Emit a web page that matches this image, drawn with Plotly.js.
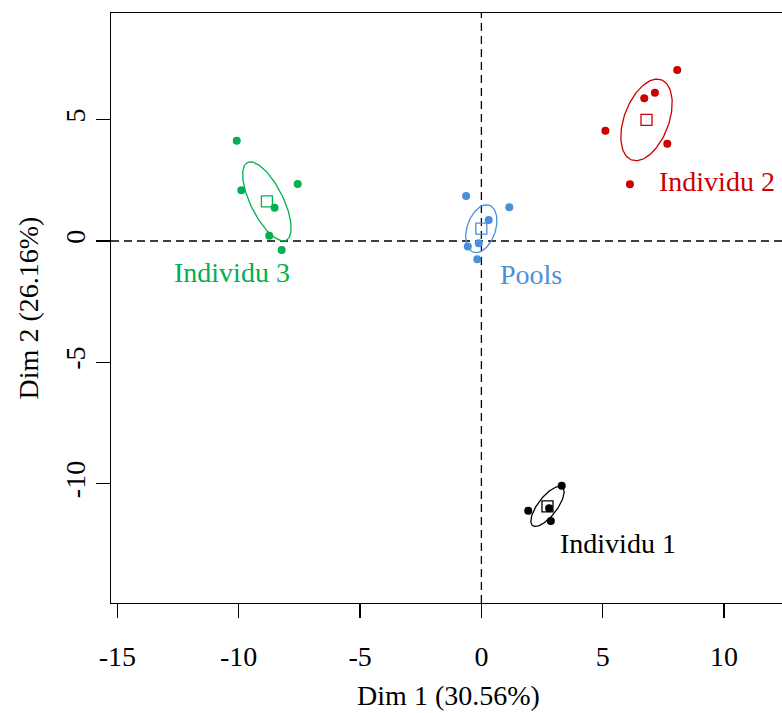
<!DOCTYPE html>
<html>
<head>
<meta charset="utf-8">
<script src="https://cdn.plot.ly/plotly-3.0.1.min.js"></script>
<style>
html,body{margin:0;padding:0;overflow:hidden;background:#fff;}
#chart{width:800px;height:713px;}
#chart svg text{font-family:"Liberation Serif","DejaVu Serif",serif !important;}
</style>
</head>
<body>
<div id="chart"></div>
<script>
// ---- data ----
const groups = ["Individu 1", "Individu 2", "Individu 3", "Pools"];
const colors = ["#000000", "#CC0000", "#00B050", "#4A8FDB"];

const ind1X = [3.31, 1.93, 2.79, 2.86];
const ind1Y = [-10.08, -11.11, -11.01, -11.54];

const ind2X = [8.07, 7.15, 6.71, 5.11, 7.66, 6.12];
const ind2Y = [7.05, 6.11, 5.88, 4.54, 4.01, 2.34];

const ind3X = [-10.08, -7.57, -9.89, -8.52, -8.74, -8.23];
const ind3Y = [4.13, 2.35, 2.09, 1.37, 0.22, -0.37];

const poolsX = [-0.63, 1.15, 0.30, -0.11, -0.56, -0.17];
const poolsY = [1.85, 1.39, 0.87, -0.09, -0.23, -0.75];

// confidence ellipses: semi-major, semi-minor (axis units), angle (degrees)
const ellA = [1.00, 1.76, 1.79, 1.02];
const ellB = [0.39, 0.92, 0.67, 0.585];
const ellAngle = [52.2, 69.6, 116.5, 71.3];

// label positions
const labelX = [5.64, 9.72, -10.26, 2.04];
const labelY = [-12.48, 2.45, -1.28, -1.40];

const xTicks = [-15, -10, -5, 0, 5, 10];
const yTicks = [-10, -5, 0, 5];
const xTitle = "Dim 1 (30.56%)";
const yTitle = "Dim 2 (26.16%)";

// ---- build ----
const FONT = "Liberation Serif";
const xs = [ind1X, ind2X, ind3X, poolsX];
const ys = [ind1Y, ind2Y, ind3Y, poolsY];
const mean = a => a.reduce((s, v) => s + v, 0) / a.length;

const traces = [];
groups.forEach((g, i) => {
  traces.push({
    x: xs[i], y: ys[i], type: "scatter", mode: "markers", name: g,
    marker: {color: colors[i], size: 8, line: {width: 0}},
    hoverinfo: "x+y"
  });
});
groups.forEach((g, i) => {
  const cx = mean(xs[i]), cy = mean(ys[i]);
  const th = ellAngle[i] * Math.PI / 180;
  const ex = [], ey = [];
  for (let k = 0; k <= 120; k++) {
    const t = 2 * Math.PI * k / 120;
    ex.push(cx + ellA[i] * Math.cos(th) * Math.cos(t) - ellB[i] * Math.sin(th) * Math.sin(t));
    ey.push(cy + ellA[i] * Math.sin(th) * Math.cos(t) + ellB[i] * Math.cos(th) * Math.sin(t));
  }
  traces.push({
    x: ex, y: ey, type: "scatter", mode: "lines", name: g + " ellipse",
    line: {color: colors[i], width: 1.3}, hoverinfo: "skip"
  });
  traces.push({
    x: [cx], y: [cy], type: "scatter", mode: "markers", name: g + " mean",
    marker: {symbol: "square-open", color: colors[i], size: 11, line: {width: 1.3, color: colors[i]}}
  });
});

const annotations = groups.map((g, i) => ({
  x: labelX[i], y: labelY[i], xref: "x", yref: "y", text: g, showarrow: false,
  xanchor: "center", yanchor: "middle",
  font: {family: FONT, size: 28, color: colors[i]}
}));

const layout = {
  width: 800, height: 713,
  margin: {l: 111, r: 14, t: 13, b: 110},
  paper_bgcolor: "#fff", plot_bgcolor: "#fff",
  showlegend: false,
  font: {family: FONT, size: 28, color: "#000"},
  xaxis: {
    range: [-15.262, 12.551], tickvals: xTicks, ticktext: xTicks.map(String),
    showgrid: false, zeroline: false, showline: true, mirror: true,
    linecolor: "#000", linewidth: 1.3, ticks: "outside", ticklen: 14,
    tickwidth: 1.3, tickcolor: "#000", ticklabelstandoff: 14,
    tickfont: {family: FONT, size: 28, color: "#000"},
    title: {text: xTitle, font: {family: FONT, size: 28, color: "#000"}, standoff: 14}
  },
  yaxis: {
    range: [-14.916, 9.394], tickvals: yTicks, ticktext: yTicks.map(String),
    showgrid: false, zeroline: false, showline: true, mirror: true,
    linecolor: "#000", linewidth: 1.3, ticks: "outside", ticklen: 14,
    tickwidth: 1.3, tickcolor: "#000", tickangle: -90, ticklabelstandoff: 0,
    tickfont: {family: FONT, size: 28, color: "#000"},
    title: {text: yTitle, font: {family: FONT, size: 28, color: "#000"}, standoff: 12}
  },
  shapes: [
    {type: "line", xref: "x", yref: "paper", x0: 0, x1: 0, y0: 0, y1: 1,
     line: {color: "#000", width: 1.3, dash: "8px,5px"}, layer: "below"},
    {type: "line", xref: "paper", yref: "y", x0: 0, x1: 1, y0: 0, y1: 0,
     line: {color: "#000", width: 1.3, dash: "8px,5px"}, layer: "below"}
  ],
  annotations: annotations
};

Plotly.newPlot("chart", traces, layout, {displayModeBar: false, staticPlot: true});
</script>
</body>
</html>
